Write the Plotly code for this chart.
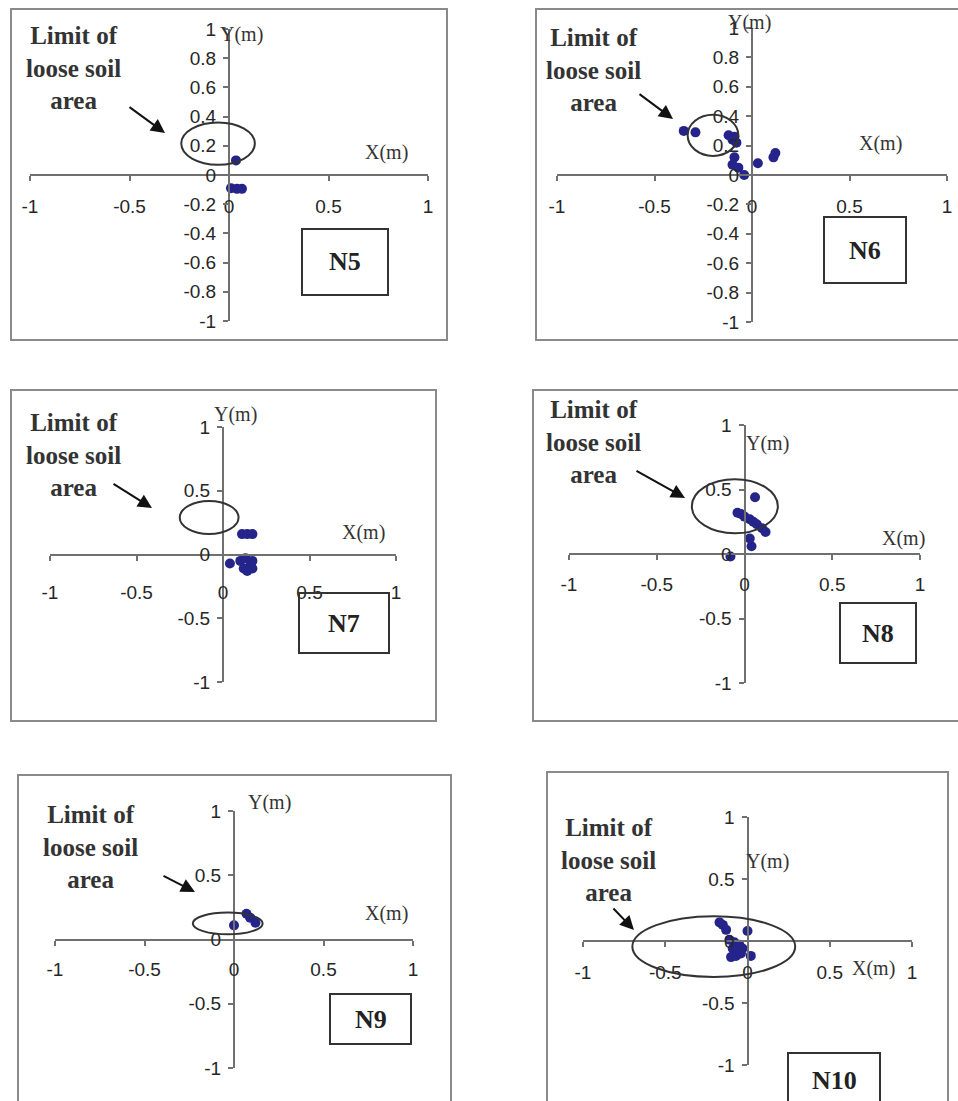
import plotly.graph_objects as go

W, H = 958, 1101

# ---- data (metres) ----
panel_names = ["N5", "N6", "N7", "N8", "N9", "N10"]

n5_x = [0.035, 0.01, 0.04, 0.065]
n5_y = [0.10, -0.09, -0.095, -0.095]

n6_x = [-0.35, -0.29, -0.12, -0.09, -0.08, -0.10, -0.09, -0.10, -0.07, -0.04, 0.03, 0.11, 0.12]
n6_y = [0.30, 0.29, 0.27, 0.26, 0.22, 0.24, 0.12, 0.07, 0.05, 0.0, 0.08, 0.12, 0.15]

n7_x = [0.11, 0.14, 0.17, 0.04, 0.10, 0.13, 0.12, 0.16, 0.17, 0.14, 0.17]
n7_y = [0.16, 0.16, 0.16, -0.07, -0.05, -0.03, -0.11, -0.08, -0.11, -0.13, -0.05]

n8_x = [0.06, -0.04, -0.02, 0.0, 0.03, 0.05, 0.07, 0.10, 0.12, 0.03, 0.04, -0.08]
n8_y = [0.44, 0.32, 0.31, 0.29, 0.27, 0.25, 0.23, 0.20, 0.17, 0.12, 0.06, -0.02]

n9_x = [0.0, 0.07, 0.09, 0.12]
n9_y = [0.11, 0.20, 0.17, 0.13]

n10_x = [-0.17, -0.15, -0.13, 0.0, -0.11, -0.08, -0.05, -0.09, -0.06, -0.03, -0.10, -0.07, -0.04, 0.02]
n10_y = [0.15, 0.13, 0.09, 0.08, 0.01, -0.01, -0.03, -0.06, -0.07, -0.06, -0.13, -0.12, -0.10, -0.12]

# loose soil limit ellipses: [x0, x1, y0, y1]
n5_limit = [-0.24, 0.13, 0.07, 0.36]
n6_limit = [-0.33, -0.07, 0.13, 0.41]
n7_limit = [-0.25, 0.09, 0.16, 0.42]
n8_limit = [-0.30, 0.19, 0.16, 0.58]
n9_limit = [-0.23, 0.16, 0.04, 0.21]
n10_limit = [-0.70, 0.29, -0.29, 0.20]

x_ticks = [-1, -0.5, 0, 0.5, 1]
y_ticks_fine = [1, 0.8, 0.6, 0.4, 0.2, 0, -0.2, -0.4, -0.6, -0.8, -1]
y_ticks_coarse = [1, 0.5, 0, -0.5, -1]

note_text = "Limit of<br>loose soil<br>area"

# ---- panel layout in pixels ----
# frame, plot x-span, plot y-span, label box, note centre, arrow tail/head, X(m), Y(m), x-label standoff
panels = [
    dict(frame=(11, 9, 447, 340), px=(30, 428), py=(29, 321), box=(302, 229, 388, 295),
         note=(73, 68), tail=(128, 106), head=(165, 133), xl=(386, 152), yl=(241, 34), so=9),
    dict(frame=(536, 9, 960, 340), px=(557, 947), py=(28, 322), box=(824, 217, 906, 283),
         note=(593, 70), tail=(638, 93), head=(673, 119), xl=(880, 143), yl=(749, 23), so=9),
    dict(frame=(11, 390, 436, 721), px=(50, 396), py=(427, 682), box=(299, 593, 389, 653),
         note=(73, 455), tail=(112, 483), head=(152, 508), xl=(363, 533), yl=(235, 414), so=16),
    dict(frame=(533, 390, 960, 721), px=(569, 920), py=(425, 683), box=(840, 603, 916, 663),
         note=(593, 442), tail=(635, 470), head=(685, 498), xl=(903, 538), yl=(767, 443), so=8),
    dict(frame=(18, 775, 451, 1110), px=(55, 413), py=(811, 1068), box=(330, 994, 411, 1044),
         note=(90, 847), tail=(162, 875), head=(195, 892), xl=(386, 913), yl=(269, 802), so=8),
    dict(frame=(547, 772, 948, 1110), px=(583, 912), py=(817, 1065), box=(788, 1053, 880, 1115),
         note=(608, 860), tail=(612, 907), head=(634, 930), xl=(873, 968), yl=(767, 861), so=9),
]

xs = [n5_x, n6_x, n7_x, n8_x, n9_x, n10_x]
ys = [n5_y, n6_y, n7_y, n8_y, n9_y, n10_y]
limits = [n5_limit, n6_limit, n7_limit, n8_limit, n9_limit, n10_limit]
yticks = [y_ticks_fine, y_ticks_fine, y_ticks_coarse, y_ticks_coarse, y_ticks_coarse, y_ticks_coarse]


def fx(p):
    return p / W


def fy(p):
    return 1 - p / H


AXIS_COL = "#707070"
TXT_COL = "#262626"
SANS = "Liberation Sans, Arial, sans-serif"
SERIF = "Liberation Serif, Times New Roman, serif"

fig = go.Figure()
shapes = []
annotations = []
layout_axes = {}


def label(text, x, y, size, family=SERIF, color="#333333"):
    return dict(text=text, xref="paper", yref="paper", x=fx(x), y=fy(y),
                xanchor="center", yanchor="middle", showarrow=False,
                font=dict(family=family, size=size, color=color))


for i, name in enumerate(panel_names):
    g = panels[i]
    n = "" if i == 0 else str(i + 1)
    xa, ya = "x" + n, "y" + n

    fig.add_trace(go.Scatter(
        x=xs[i], y=ys[i], mode="markers", xaxis=xa, yaxis=ya,
        marker=dict(size=10, color="#24248a"), showlegend=False, hoverinfo="x+y",
    ))

    x_mid = (g["px"][0] + g["px"][1]) / 2
    y_mid = (g["py"][0] + g["py"][1]) / 2
    layout_axes["xaxis" + n] = dict(
        domain=[fx(g["px"][0]), fx(g["px"][1])], anchor="free", position=fy(y_mid),
        range=[-1, 1], tickvals=x_ticks, ticktext=[f"{v:g}" for v in x_ticks],
        showgrid=False, zeroline=False, showline=True, linecolor=AXIS_COL, linewidth=2,
        ticks="outside", ticklen=5, tickwidth=2, tickcolor=AXIS_COL,
        tickfont=dict(family=SANS, size=19, color=TXT_COL), ticklabelstandoff=g["so"],
        fixedrange=True, automargin=False,
    )
    layout_axes["yaxis" + n] = dict(
        domain=[fy(g["py"][1]), fy(g["py"][0])], anchor="free", position=fx(x_mid),
        range=[-1, 1], tickvals=yticks[i], ticktext=[f"{v:g}" for v in yticks[i]],
        showgrid=False, zeroline=False, showline=True, linecolor=AXIS_COL, linewidth=2,
        ticks="outside", ticklen=5, tickwidth=2, tickcolor=AXIS_COL,
        tickfont=dict(family=SANS, size=19, color=TXT_COL), ticklabelstandoff=3,
        fixedrange=True, automargin=False,
    )

    # limit of loose soil area
    lx0, lx1, ly0, ly1 = limits[i]
    shapes.append(dict(type="circle", xref=xa, yref=ya, x0=lx0, x1=lx1, y0=ly0, y1=ly1,
                       line=dict(color="#333333", width=2)))

    # panel frame
    f = g["frame"]
    shapes.append(dict(type="rect", xref="paper", yref="paper",
                       x0=fx(f[0]), x1=fx(f[2]), y0=fy(f[3]), y1=fy(f[1]),
                       line=dict(color="#8a8a8a", width=2)))

    # name box
    b = g["box"]
    shapes.append(dict(type="rect", xref="paper", yref="paper",
                       x0=fx(b[0]), x1=fx(b[2]), y0=fy(b[3]), y1=fy(b[1]),
                       line=dict(color="#333333", width=2)))
    by = (b[1] + b[3]) / 2 if i < 5 else 1080
    annotations.append(label(f"<b>{name}</b>", (b[0] + b[2]) / 2, by, 26, color="#222222"))

    # note text + arrow
    annotations.append(label(f"<b>{note_text}</b>", g["note"][0], g["note"][1], 25))
    annotations.append(dict(text="", xref="paper", yref="paper",
                            x=fx(g["head"][0]), y=fy(g["head"][1]),
                            ax=g["tail"][0] - g["head"][0], ay=g["tail"][1] - g["head"][1],
                            showarrow=True, arrowhead=2, arrowsize=1.4, arrowwidth=2,
                            arrowcolor="#111111", standoff=0))

    # axis titles
    annotations.append(label("X(m)", g["xl"][0], g["xl"][1], 20))
    annotations.append(label("Y(m)", g["yl"][0], g["yl"][1], 20))

fig.update_layout(
    width=W, height=H,
    margin=dict(l=0, r=0, t=0, b=0),
    paper_bgcolor="white", plot_bgcolor="white",
    shapes=shapes, annotations=annotations,
    showlegend=False,
    **layout_axes,
)

fig.write_html("out.html", config={"displayModeBar": False},
               post_script="document.body.style.margin='0';")
